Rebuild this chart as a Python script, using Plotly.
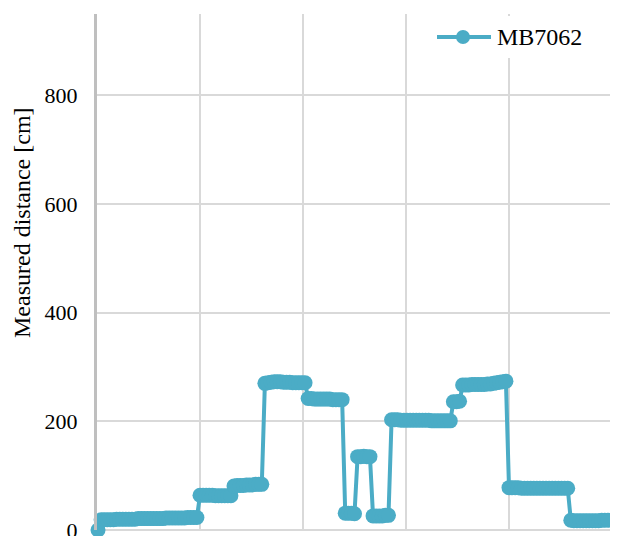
import plotly.graph_objects as go

# ---- data ----
time_s = [
    1, 4, 7, 10, 13, 16, 19, 22, 25, 28, 31, 34, 37, 40, 43, 46, 49, 52, 55, 58, 61, 64, 67, 70, 73, 76, 79, 82, 85, 88, 91, 94, 97,
    100, 103, 106, 109, 112, 115, 118, 121, 124, 127, 130,
    133, 136, 139, 142, 145, 148, 151, 154, 157, 160,
    163, 166, 169, 172, 175, 178, 181, 184, 187, 190, 193, 196, 199, 202,
    205, 208, 211, 214, 217, 220, 223, 226, 229, 232, 235, 238,
    241, 244, 247, 250,
    253, 256, 259, 262, 265,
    268, 271, 274, 277, 280, 283,
    286, 289, 292, 295, 298, 301, 304, 307, 310, 313, 316, 319, 322, 325, 328, 331, 334, 337, 340, 343,
    346, 349, 352,
    355, 358, 361, 364, 367, 370, 373, 376, 379, 382, 385, 388, 391, 394, 397,
    400, 403, 406, 409, 412, 415, 418, 421, 424, 427, 430, 433, 436, 439, 442, 445, 448, 451, 454, 457,
    460, 463, 466, 469, 472, 475, 478, 481, 484, 487, 490, 493, 496,
]
distance_cm = [
    0, 19, 19, 19, 19, 19, 20, 20, 20, 20, 20, 20, 20, 21, 21, 21, 21, 21, 21, 21, 21, 21, 22, 22, 22, 22, 22, 22, 22, 23, 23, 23, 23,
    64, 64, 64, 64, 64, 63, 63, 63, 63, 63, 63,
    81, 82, 82, 82, 83, 83, 83, 84, 84, 84,
    270, 271, 272, 273, 273, 273, 272, 272, 272, 271, 271, 271, 271, 271,
    242, 242, 241, 241, 241, 241, 241, 241, 240, 240, 240, 240,
    31, 31, 31, 30,
    135, 135, 136, 135, 135,
    26, 26, 26, 26, 27, 27,
    203, 203, 203, 202, 202, 202, 202, 202, 202, 202, 202, 202, 202, 201, 201, 201, 201, 201, 201, 201,
    236, 236, 237,
    267, 267, 267, 268, 268, 268, 268, 268, 269, 269, 270, 271, 272, 273, 274,
    78, 78, 78, 78, 77, 77, 77, 77, 77, 77, 77, 77, 77, 77, 77, 77, 77, 77, 77, 77,
    18, 17, 17, 17, 17, 17, 17, 17, 17, 17, 18, 18, 18,
]
series_name = "MB7062"
y_title = "Measured distance [cm]"
y_ticks = [0, 200, 400, 600, 800]

COLOR = "#4BACC6"
FONT = "Liberation Serif"

fig = go.Figure()
fig.add_trace(go.Scatter(
    x=time_s, y=distance_cm, mode="lines+markers", name=series_name,
    line=dict(color=COLOR, width=4),
    marker=dict(color=COLOR, size=15),
    cliponaxis=False, showlegend=False,
))

OFF = 8  # page body margin
W, H = 618 - OFF, 536 - OFF
ml, mt = 97 - OFF, 14 - OFF
pw, ph = 515, 516
mr, mb = W - ml - pw, H - mt - ph


def px_x(px):
    return (px - OFF - ml) / pw


def px_y(py):
    return 1 - (py - OFF - mt) / ph


shapes = [
    dict(type="rect", xref="paper", yref="paper", layer="above",
         x0=px_x(418), x1=px_x(600), y0=px_y(58), y1=px_y(16),
         fillcolor="white", line=dict(width=0)),
    dict(type="line", xref="paper", yref="paper", layer="above",
         x0=px_x(437), x1=px_x(491), y0=px_y(37), y1=px_y(37),
         line=dict(color=COLOR, width=4)),
    dict(type="circle", xref="paper", yref="paper", layer="above",
         x0=px_x(456), x1=px_x(470), y0=px_y(44), y1=px_y(30),
         fillcolor=COLOR, line=dict(width=0)),
]

annotations = [
    dict(text=series_name, xref="paper", yref="paper", x=px_x(495), y=px_y(37),
         xanchor="left", yanchor="middle", showarrow=False,
         font=dict(family=FONT, size=24, color="black")),
    dict(text=y_title, xref="paper", yref="paper", x=px_x(22), y=px_y(223),
         xanchor="center", yanchor="middle", textangle=-90, showarrow=False,
         font=dict(family=FONT, size=24, color="black")),
]

fig.update_layout(
    width=W, height=H,
    margin=dict(l=ml, r=mr, t=mt, b=mb, pad=0),
    paper_bgcolor="white", plot_bgcolor="white",
    font=dict(family=FONT, size=22, color="black"),
    shapes=shapes, annotations=annotations,
    showlegend=False,
)
fig.update_xaxes(
    range=[0, 500], tickvals=[0, 100, 200, 300, 400, 500], showticklabels=False,
    showgrid=True, gridcolor="#d9d9d9", gridwidth=2,
    zeroline=False, showline=False, ticks="", automargin=False,
)
fig.update_yaxes(
    range=[0, 950], tickvals=y_ticks,
    showgrid=True, gridcolor="#d9d9d9", gridwidth=2,
    zeroline=True, zerolinecolor="#d9d9d9", zerolinewidth=2,
    showline=True, linecolor="#bfbfbf", linewidth=3,
    ticks="", ticklabelstandoff=12, ticklabeloverflow="allow", automargin=False,
    tickfont=dict(family=FONT, size=22, color="black"),
)

fig.write_html("out.html")
